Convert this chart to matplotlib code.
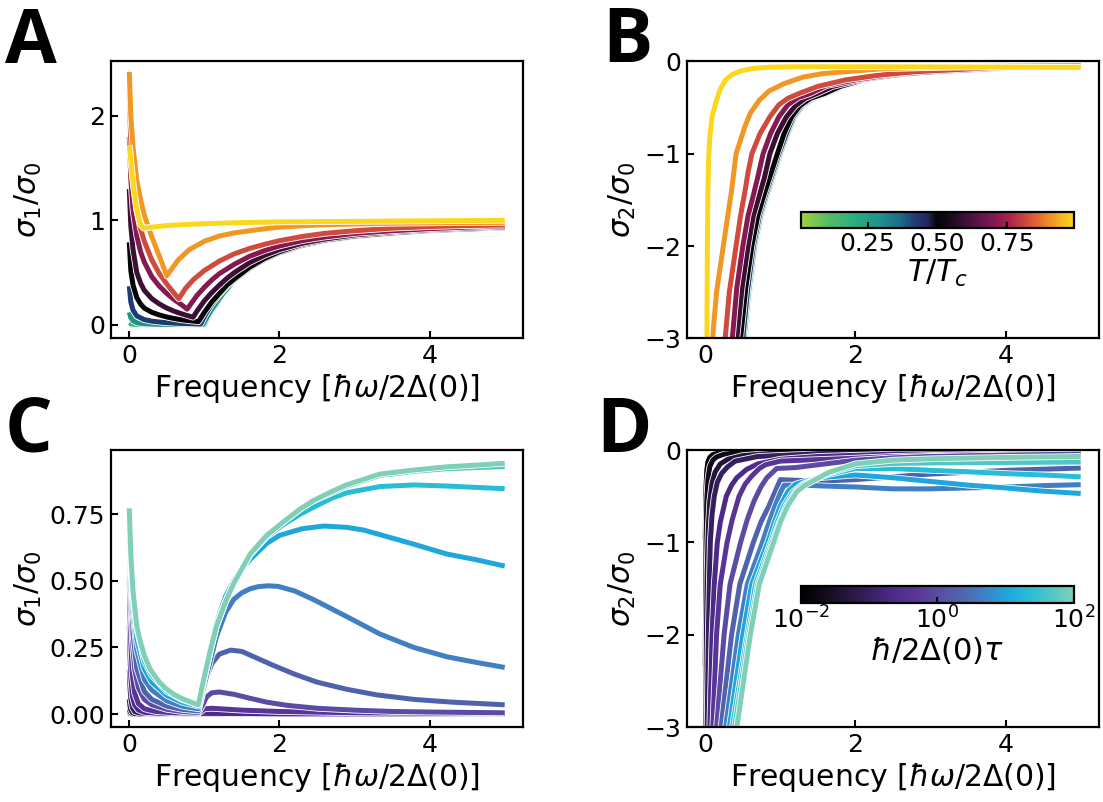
import matplotlib
matplotlib.use('Agg')
import matplotlib.pyplot as plt
import matplotlib.patheffects as pe
from matplotlib.colors import LinearSegmentedColormap, Normalize, LogNorm
from matplotlib.cm import ScalarMappable

# temperatures T/Tc (panels A, B)
temps = [0.05, 0.17, 0.28, 0.42, 0.50, 0.60, 0.71, 0.82, 0.91, 0.99]

# scattering rates hbar/2Delta(0)tau (panels C, D)
rates = [0.01, 0.0215, 0.0464, 0.1, 0.215, 0.464, 1.0, 2.15, 4.64, 10.0, 21.5, 46.4, 100.0]

# ---- A: sigma1/sigma0 vs frequency, one curve per temperature
A_x = [
    [0, 0.5, 1.0, 1.05, 1.1, 1.16, 1.25, 1.39, 1.5, 1.61, 1.83, 2.0, 2.28, 2.6, 2.94, 3.5, 4.0, 4.5, 5.0],
    [0, 0.03, 0.1, 0.3, 0.6, 1.0, 1.05, 1.1, 1.16, 1.25, 1.39, 1.5, 1.61, 1.83, 2.0, 2.28, 2.6, 2.94, 3.5, 4.0, 4.5, 5.0],
    [0, 0.02, 0.05, 0.1, 0.2, 0.4, 0.7, 0.98, 1.05, 1.1, 1.16, 1.25, 1.39, 1.5, 1.61, 1.83, 2.0, 2.28, 2.6, 2.94, 3.5, 4.0, 4.5, 5.0],
    [0, 0.02, 0.05, 0.1, 0.2, 0.3, 0.5, 0.7, 0.95, 1.0, 1.05, 1.1, 1.2, 1.3, 1.4, 1.6, 1.8, 2.0, 2.3, 2.6, 3.0, 3.5, 4.0, 4.5, 5.0],
    [0, 0.02, 0.05, 0.1, 0.15, 0.2, 0.3, 0.4, 0.5, 0.6, 0.7, 0.8, 0.92, 1.0, 1.1, 1.2, 1.3, 1.4, 1.6, 1.8, 2.0, 2.3, 2.6, 3.0, 3.5, 4.0, 4.5, 5.0],
    [0, 0.02, 0.05, 0.1, 0.15, 0.2, 0.3, 0.4, 0.5, 0.6, 0.7, 0.85, 0.9, 1.0, 1.1, 1.2, 1.3, 1.4, 1.6, 1.8, 2.0, 2.3, 2.6, 3.0, 3.5, 4.0, 4.5, 5.0],
    [0, 0.02, 0.05, 0.1, 0.15, 0.2, 0.3, 0.4, 0.5, 0.6, 0.7, 0.77, 0.85, 0.9, 1.0, 1.1, 1.2, 1.4, 1.6, 1.8, 2.0, 2.3, 2.6, 3.0, 3.5, 4.0, 4.5, 5.0],
    [0, 0.02, 0.05, 0.1, 0.15, 0.2, 0.3, 0.4, 0.5, 0.6, 0.66, 0.75, 0.85, 1.0, 1.2, 1.4, 1.6, 1.8, 2.0, 2.3, 2.6, 3.0, 3.5, 4.0, 4.5, 5.0],
    [0, 0.02, 0.05, 0.1, 0.15, 0.2, 0.28, 0.35, 0.42, 0.5, 0.55, 0.65, 0.8, 1.0, 1.2, 1.4, 1.7, 2.0, 2.5, 3.0, 3.5, 4.0, 4.5, 5.0],
    [0, 0.03, 0.06, 0.1, 0.15, 0.19, 0.3, 0.5, 0.75, 1.0, 1.5, 2.0, 3.0, 4.0, 5.0],
]
A_y = [
    [0, 0, 0, 0.07, 0.13, 0.19, 0.29, 0.41, 0.48, 0.55, 0.64, 0.69, 0.755, 0.8, 0.835, 0.87, 0.895, 0.91, 0.925],
    [0.02, 0.008, 0.003, 0.001, 0, 0, 0.075, 0.135, 0.195, 0.295, 0.415, 0.485, 0.552, 0.642, 0.692, 0.757, 0.802, 0.836, 0.871, 0.896, 0.911, 0.926],
    [0.12, 0.07, 0.04, 0.02, 0.01, 0.005, 0.003, 0.002, 0.09, 0.15, 0.21, 0.3, 0.42, 0.49, 0.555, 0.645, 0.695, 0.76, 0.805, 0.838, 0.873, 0.897, 0.912, 0.927],
    [0.37, 0.22, 0.14, 0.085, 0.05, 0.035, 0.02, 0.013, 0.008, 0.08, 0.14, 0.2, 0.29, 0.37, 0.43, 0.54, 0.625, 0.69, 0.76, 0.805, 0.845, 0.877, 0.9, 0.915, 0.928],
    [0.79, 0.52, 0.38, 0.26, 0.2, 0.16, 0.12, 0.095, 0.075, 0.06, 0.048, 0.04, 0.03, 0.12, 0.22, 0.3, 0.38, 0.44, 0.55, 0.635, 0.7, 0.77, 0.81, 0.85, 0.88, 0.903, 0.917, 0.93],
    [1.30, 0.95, 0.72, 0.5, 0.4, 0.33, 0.25, 0.2, 0.16, 0.13, 0.105, 0.073, 0.13, 0.23, 0.31, 0.38, 0.445, 0.5, 0.595, 0.665, 0.72, 0.78, 0.82, 0.86, 0.89, 0.91, 0.925, 0.935],
    [1.8, 1.4, 1.1, 0.85, 0.7, 0.6, 0.46, 0.37, 0.3, 0.24, 0.19, 0.15, 0.23, 0.28, 0.36, 0.43, 0.49, 0.58, 0.655, 0.71, 0.755, 0.805, 0.84, 0.875, 0.9, 0.92, 0.935, 0.945],
    [2.21, 1.75, 1.4, 1.1, 0.92, 0.8, 0.62, 0.49, 0.39, 0.3, 0.25, 0.35, 0.43, 0.52, 0.61, 0.68, 0.73, 0.77, 0.805, 0.845, 0.875, 0.9, 0.925, 0.94, 0.95, 0.955],
    [2.42, 2.0, 1.7, 1.38, 1.2, 1.05, 0.88, 0.75, 0.62, 0.47, 0.52, 0.62, 0.72, 0.8, 0.85, 0.88, 0.91, 0.935, 0.955, 0.965, 0.972, 0.976, 0.979, 0.98],
    [1.72, 1.5, 1.3, 1.1, 0.96, 0.925, 0.935, 0.95, 0.96, 0.968, 0.978, 0.985, 0.99, 0.995, 1.0],
]

# ---- B: sigma2/sigma0 vs frequency, one curve per temperature
B_x = [
    [0.53, 0.59, 0.67, 0.75, 0.83, 0.91, 1.01, 1.11, 1.2, 1.31, 1.46, 1.63, 1.86, 2.16, 2.6, 3.1, 4.0, 5.0],
    [0.52, 0.58, 0.66, 0.74, 0.82, 0.9, 1.0, 1.1, 1.19, 1.3, 1.45, 1.62, 1.85, 2.15, 2.6, 3.1, 4.0, 5.0],
    [0.515, 0.575, 0.655, 0.735, 0.815, 0.895, 0.995, 1.095, 1.185, 1.295, 1.445, 1.615, 1.845, 2.145, 2.6, 3.1, 4.0, 5.0],
    [0.5, 0.56, 0.64, 0.72, 0.8, 0.88, 0.98, 1.08, 1.17, 1.28, 1.42, 1.6, 1.82, 2.12, 2.55, 3.08, 4.0, 5.0],
    [0.47, 0.54, 0.62, 0.70, 0.78, 0.86, 0.96, 1.05, 1.15, 1.26, 1.4, 1.58, 1.8, 2.1, 2.5, 3.06, 4.0, 5.0],
    [0.42, 0.49, 0.57, 0.64, 0.72, 0.79, 0.86, 0.96, 1.08, 1.2, 1.33, 1.48, 1.7, 2.06, 2.5, 3.0, 4.0, 5.0],
    [0.36, 0.42, 0.5, 0.57, 0.64, 0.7, 0.77, 0.87, 0.98, 1.1, 1.24, 1.39, 1.62, 2.0, 2.5, 3.06, 4.0, 5.0],
    [0.265, 0.32, 0.41, 0.47, 0.53, 0.57, 0.62, 0.73, 0.86, 0.98, 1.1, 1.24, 1.5, 1.87, 2.3, 2.82, 3.8, 5.0],
    [0.097, 0.15, 0.24, 0.3, 0.35, 0.38, 0.41, 0.47, 0.53, 0.6, 0.72, 0.85, 1.05, 1.3, 1.58, 2.35, 3.5, 5.0],
    [0.022, 0.028, 0.035, 0.045, 0.06, 0.09, 0.15, 0.2, 0.27, 0.36, 0.48, 0.65, 0.86, 1.2, 2.0, 3.0, 4.0, 5.0],
]
B_y = [
    [-3, -2.5, -2.0, -1.67, -1.45, -1.25, -1.0, -0.78, -0.6, -0.48, -0.4, -0.35, -0.27, -0.2, -0.145, -0.1, -0.072, -0.055],
    [-3, -2.5, -2.0, -1.67, -1.45, -1.25, -1.0, -0.78, -0.6, -0.48, -0.4, -0.35, -0.27, -0.2, -0.145, -0.1, -0.072, -0.055],
    [-3, -2.5, -2.0, -1.67, -1.45, -1.25, -1.0, -0.78, -0.6, -0.48, -0.4, -0.35, -0.27, -0.2, -0.145, -0.1, -0.072, -0.055],
    [-3, -2.5, -2.0, -1.67, -1.45, -1.25, -1.0, -0.78, -0.6, -0.48, -0.4, -0.35, -0.27, -0.2, -0.145, -0.1, -0.072, -0.055],
    [-3, -2.45, -2.0, -1.67, -1.45, -1.25, -1.0, -0.78, -0.6, -0.48, -0.4, -0.35, -0.27, -0.2, -0.15, -0.1, -0.072, -0.055],
    [-3, -2.45, -2.0, -1.67, -1.45, -1.25, -1.0, -0.78, -0.6, -0.48, -0.4, -0.35, -0.27, -0.2, -0.15, -0.11, -0.075, -0.055],
    [-3, -2.45, -2.0, -1.67, -1.45, -1.25, -1.0, -0.78, -0.6, -0.47, -0.39, -0.35, -0.26, -0.2, -0.14, -0.11, -0.07, -0.05],
    [-3, -2.5, -2.0, -1.67, -1.4, -1.2, -1.0, -0.78, -0.6, -0.47, -0.4, -0.35, -0.27, -0.2, -0.15, -0.11, -0.07, -0.05],
    [-3, -2.5, -2.0, -1.67, -1.4, -1.2, -1.0, -0.85, -0.7, -0.56, -0.42, -0.32, -0.24, -0.17, -0.13, -0.08, -0.055, -0.045],
    [-3, -2.0, -1.4, -1.05, -0.82, -0.6, -0.42, -0.3, -0.2, -0.14, -0.1, -0.075, -0.062, -0.058, -0.058, -0.06, -0.062, -0.065],
]

# ---- C: sigma1/sigma0 vs frequency, one curve per scattering rate
C_x = [
    [0, 0.01, 0.02, 0.05, 0.92, 5.0],
    [0, 0.01, 0.03, 0.06, 0.92, 5.0],
    [0, 0.01, 0.02, 0.04, 0.07, 0.15, 0.92, 5.0],
    [0, 0.01, 0.02, 0.04, 0.07, 0.12, 0.2, 0.4, 0.92, 5.0],
    [0, 0.01, 0.02, 0.04, 0.07, 0.12, 0.2, 0.4, 0.92, 1.0, 2.0, 5.0],
    [0, 0.01, 0.02, 0.04, 0.07, 0.12, 0.2, 0.35, 0.6, 0.92, 1.0, 1.1, 1.5, 2.0, 3.0, 5.0],
    [0, 0.01, 0.02, 0.04, 0.07, 0.12, 0.2, 0.3, 0.5, 0.7, 0.92, 0.97, 1.03, 1.1, 1.2, 1.4, 1.6, 1.83, 2.1, 2.5, 3.0, 3.5, 4.0, 5.0],
    [0, 0.01, 0.02, 0.05, 0.1, 0.2, 0.3, 0.5, 0.7, 0.92, 0.97, 1.03, 1.1, 1.2, 1.35, 1.5, 1.7, 1.9, 2.2, 2.5, 2.9, 3.3, 3.8, 4.3, 5.0],
    [0, 0.01, 0.02, 0.05, 0.1, 0.2, 0.3, 0.5, 0.7, 0.92, 0.99, 1.08, 1.16, 1.28, 1.39, 1.5, 1.61, 1.72, 1.85, 1.98, 2.2, 2.45, 2.9, 3.34, 3.79, 4.23, 4.6, 5.0],
    [0, 0.01, 0.02, 0.05, 0.1, 0.2, 0.3, 0.5, 0.7, 0.92, 0.99, 1.08, 1.16, 1.28, 1.39, 1.5, 1.61, 1.83, 2.0, 2.3, 2.59, 2.9, 3.12, 3.5, 3.79, 4.23, 4.6, 5.0],
    [0, 0.01, 0.02, 0.05, 0.1, 0.2, 0.3, 0.5, 0.7, 0.92, 0.99, 1.08, 1.16, 1.28, 1.39, 1.5, 1.61, 1.83, 2.05, 2.28, 2.45, 2.7, 2.9, 3.34, 3.79, 4.23, 4.6, 5.0],
    [0, 0.01, 0.02, 0.05, 0.1, 0.14, 0.2, 0.28, 0.4, 0.5, 0.6, 0.72, 0.82, 0.92, 0.99, 1.08, 1.16, 1.28, 1.39, 1.5, 1.61, 1.83, 2.05, 2.28, 2.45, 2.7, 2.9, 3.34, 3.79, 4.23, 4.6, 5.0],
    [0, 0.01, 0.02, 0.05, 0.1, 0.14, 0.2, 0.28, 0.4, 0.5, 0.6, 0.72, 0.82, 0.92, 0.99, 1.08, 1.16, 1.28, 1.39, 1.5, 1.61, 1.83, 2.05, 2.28, 2.45, 2.7, 2.9, 3.34, 3.79, 4.23, 4.6, 5.0],
]
C_y = [
    [0.006, 0.002, 0, 0, 0, 0],
    [0.02, 0.008, 0.002, 0, 0, 0],
    [0.056, 0.03, 0.016, 0.006, 0.002, 0, 0, 0],
    [0.167, 0.1, 0.06, 0.025, 0.01, 0.005, 0.002, 0.001, 0, 0],
    [0.33, 0.22, 0.14, 0.07, 0.035, 0.016, 0.007, 0.003, 0.001, 0.003, 0.001, 0],
    [0.5, 0.37, 0.27, 0.15, 0.08, 0.04, 0.02, 0.01, 0.005, 0.003, 0.02, 0.022, 0.015, 0.01, 0.005, 0.002],
    [0.65, 0.52, 0.42, 0.28, 0.17, 0.1, 0.055, 0.035, 0.018, 0.01, 0.006, 0.03, 0.065, 0.08, 0.083, 0.074, 0.06, 0.045, 0.033, 0.022, 0.015, 0.01, 0.008, 0.005],
    [0.72, 0.6, 0.5, 0.3, 0.17, 0.085, 0.055, 0.03, 0.018, 0.012, 0.07, 0.14, 0.19, 0.225, 0.24, 0.235, 0.21, 0.185, 0.15, 0.12, 0.093, 0.072, 0.055, 0.045, 0.035],
    [0.76, 0.65, 0.56, 0.38, 0.24, 0.13, 0.09, 0.05, 0.03, 0.02, 0.1, 0.2, 0.29, 0.38, 0.43, 0.455, 0.47, 0.478, 0.481, 0.479, 0.462, 0.43, 0.365, 0.3, 0.25, 0.215, 0.195, 0.175],
    [0.77, 0.66, 0.58, 0.42, 0.28, 0.17, 0.12, 0.07, 0.045, 0.03, 0.12, 0.24, 0.34, 0.44, 0.5, 0.545, 0.58, 0.64, 0.67, 0.695, 0.705, 0.7, 0.69, 0.66, 0.637, 0.6, 0.58, 0.555],
    [0.77, 0.67, 0.59, 0.45, 0.32, 0.2, 0.145, 0.085, 0.055, 0.035, 0.13, 0.24, 0.33, 0.42, 0.49, 0.545, 0.598, 0.665, 0.71, 0.75, 0.775, 0.81, 0.83, 0.853, 0.859, 0.855, 0.85, 0.845],
    [0.77, 0.68, 0.6, 0.46, 0.33, 0.28, 0.22, 0.167, 0.12, 0.093, 0.073, 0.056, 0.045, 0.035, 0.13, 0.24, 0.33, 0.42, 0.49, 0.545, 0.6, 0.67, 0.72, 0.77, 0.8, 0.83, 0.855, 0.895, 0.91, 0.92, 0.924, 0.928],
    [0.77, 0.68, 0.6, 0.46, 0.33, 0.28, 0.22, 0.167, 0.12, 0.093, 0.073, 0.056, 0.045, 0.035, 0.13, 0.24, 0.33, 0.42, 0.49, 0.545, 0.6, 0.67, 0.72, 0.77, 0.8, 0.835, 0.86, 0.9, 0.915, 0.927, 0.933, 0.94],
]

# ---- D: sigma2/sigma0 vs frequency, one curve per scattering rate
D_x = [
    [0, 0.005, 0.01, 0.02, 0.035, 0.06, 0.1, 0.2, 0.4, 1.0, 2.0, 5.0],
    [0, 0.005, 0.01, 0.02, 0.035, 0.06, 0.1, 0.15, 0.25, 0.5, 1.0, 2.0, 5.0],
    [0.008, 0.015, 0.025, 0.04, 0.06, 0.09, 0.13, 0.2, 0.3, 0.5, 1.0, 2.0, 5.0],
    [0.025, 0.04, 0.055, 0.067, 0.09, 0.12, 0.16, 0.22, 0.3, 0.4, 0.7, 1.5, 3.0, 5.0],
    [0.06, 0.09, 0.12, 0.16, 0.2, 0.28, 0.35, 0.42, 0.55, 0.7, 1.0, 1.5, 2.5, 5.0],
    [0.1, 0.15, 0.2, 0.29, 0.36, 0.45, 0.53, 0.62, 0.72, 0.8, 1.0, 1.3, 1.8, 2.5, 3.5, 5.0],
    [0.15, 0.25, 0.33, 0.47, 0.56, 0.65, 0.74, 0.82, 0.95, 1.2, 1.5, 2.0, 2.5, 3.0, 4.0, 5.0],
    [0.21, 0.35, 0.46, 0.64, 0.74, 0.85, 0.93, 1.0, 1.3, 1.6, 2.0, 2.5, 3.0, 3.5, 4.0, 5.0],
    [0.27, 0.44, 0.56, 0.76, 0.85, 0.93, 1.0, 1.05, 1.3, 1.6, 2.0, 2.5, 3.0, 3.5, 4.0, 4.5, 5.0],
    [0.32, 0.5, 0.62, 0.83, 0.92, 1.0, 1.1, 1.2, 1.5, 2.0, 2.5, 3.0, 3.5, 4.0, 4.5, 5.0],
    [0.36, 0.56, 0.67, 0.87, 0.96, 1.05, 1.17, 1.3, 1.55, 2.0, 2.5, 3.0, 3.5, 4.0, 4.5, 5.0],
    [0.39, 0.58, 0.7, 0.89, 0.99, 1.08, 1.2, 1.3, 1.65, 2.0, 2.5, 3.0, 4.0, 5.0],
    [0.42, 0.6, 0.72, 0.91, 1.0, 1.1, 1.22, 1.33, 1.65, 2.0, 2.5, 3.0, 4.0, 5.0],
]
D_y = [
    [-0.97, -0.6, -0.4, -0.22, -0.13, -0.08, -0.05, -0.028, -0.016, -0.008, -0.005, -0.003],
    [-2.34, -1.5, -1.0, -0.55, -0.32, -0.18, -0.11, -0.075, -0.045, -0.025, -0.014, -0.008, -0.004],
    [-3, -2.0, -1.3, -0.85, -0.55, -0.36, -0.24, -0.15, -0.1, -0.06, -0.03, -0.017, -0.008],
    [-3, -2.0, -1.4, -1.0, -0.7, -0.5, -0.35, -0.25, -0.18, -0.12, -0.07, -0.04, -0.025, -0.018],
    [-3, -2.0, -1.45, -1.0, -0.78, -0.5, -0.38, -0.3, -0.21, -0.15, -0.1, -0.07, -0.045, -0.03],
    [-3, -2.0, -1.45, -1.0, -0.75, -0.5, -0.37, -0.28, -0.2, -0.16, -0.12, -0.11, -0.095, -0.07, -0.05, -0.04],
    [-3, -2.0, -1.45, -1.0, -0.75, -0.55, -0.4, -0.3, -0.2, -0.19, -0.16, -0.11, -0.085, -0.07, -0.055, -0.045],
    [-3, -2.0, -1.45, -1.0, -0.78, -0.6, -0.45, -0.32, -0.33, -0.335, -0.32, -0.29, -0.26, -0.24, -0.22, -0.195],
    [-3, -2.0, -1.45, -1.0, -0.78, -0.6, -0.46, -0.38, -0.38, -0.39, -0.4, -0.42, -0.42, -0.41, -0.4, -0.385, -0.375],
    [-3, -2.0, -1.45, -1.0, -0.78, -0.6, -0.45, -0.37, -0.3, -0.27, -0.3, -0.34, -0.38, -0.41, -0.445, -0.47],
    [-3, -2.0, -1.45, -1.0, -0.78, -0.6, -0.45, -0.37, -0.28, -0.2, -0.2, -0.22, -0.235, -0.255, -0.27, -0.29],
    [-3, -2.0, -1.45, -1.0, -0.78, -0.6, -0.45, -0.38, -0.25, -0.17, -0.145, -0.14, -0.135, -0.13],
    [-3, -2.0, -1.45, -1.0, -0.78, -0.6, -0.45, -0.38, -0.24, -0.15, -0.11, -0.095, -0.08, -0.07],
]

# colour maps: green -> black -> yellow for T, black -> purple -> blue -> mint for scattering
temp_cmap = LinearSegmentedColormap.from_list('temp', [
    (0.00, '#a2d13e'), (0.10, '#55bd66'), (0.20, '#28ad82'), (0.30, '#1e8c8c'),
    (0.37, '#1b6a88'), (0.41, '#1d3f76'), (0.46, '#242a60'), (0.50, '#050505'),
    (0.55, '#1a0a1c'), (0.62, '#47113f'), (0.70, '#7c1752'), (0.77, '#ad2449'),
    (0.84, '#d8523a'), (0.91, '#ef8d27'), (1.00, '#fbd81d')])
rate_cmap = LinearSegmentedColormap.from_list('rate', [
    (0.00, '#000000'), (0.08, '#120a18'), (0.17, '#25163c'), (0.25, '#35205e'),
    (0.33, '#4b2a88'), (0.42, '#5a3598'), (0.50, '#5a4ba3'), (0.58, '#5062ac'),
    (0.67, '#3f80c3'), (0.75, '#1fa5dc'), (0.83, '#25bcd7'), (0.92, '#52c6c6'),
    (1.00, '#80d0b8')])
temp_norm = Normalize(vmin=0.01, vmax=0.99)
rate_norm = LogNorm(vmin=1e-2, vmax=1e2)

plt.rcParams['font.family'] = 'DejaVu Sans'
plt.rcParams['mathtext.fontset'] = 'dejavusans'

TICK_FS = 18
LABEL_FS = 21.5

fig = plt.figure(figsize=(11.03, 8.02), dpi=100)
axA = fig.add_axes([0.1002, 0.578, 0.3744, 0.3454])
axB = fig.add_axes([0.6224, 0.578, 0.3744, 0.3454])
axC = fig.add_axes([0.1002, 0.0929, 0.3744, 0.346])
axD = fig.add_axes([0.6224, 0.0929, 0.3744, 0.346])

LW = 3.6
halo = [pe.Stroke(linewidth=LW + 1.2, foreground='white'), pe.Normal()]


def draw(ax, xs, ys, values, cmap, norm):
    for x, y, v in zip(xs, ys, values):
        ax.plot(x, y, color=cmap(norm(v)), lw=LW, solid_capstyle='butt',
                solid_joinstyle='round', path_effects=halo)


draw(axA, A_x, A_y, temps, temp_cmap, temp_norm)
draw(axB, B_x, B_y, temps, temp_cmap, temp_norm)
draw(axC, C_x, C_y, rates, rate_cmap, rate_norm)
draw(axD, D_x, D_y, rates, rate_cmap, rate_norm)

axA.set_ylim(-0.13, 2.52)
axA.set_yticks([0, 1, 2])
axB.set_ylim(-3, 0)
axB.set_yticks([-3, -2, -1, 0])
axC.set_ylim(-0.05, 0.99)
axC.set_yticks([0, 0.25, 0.5, 0.75])
axD.set_ylim(-3, 0)
axD.set_yticks([-3, -2, -1, 0])

xlabel = r'Frequency [$\hbar\omega/2\Delta(0)$]'
for ax, ylab in [(axA, r'$\sigma_1/\sigma_0$'), (axB, r'$\sigma_2/\sigma_0$'),
                 (axC, r'$\sigma_1/\sigma_0$'), (axD, r'$\sigma_2/\sigma_0$')]:
    ax.set_xlim(-0.25, 5.25)
    ax.set_xticks([0, 2, 4])
    ax.tick_params(direction='in', length=5, width=1.5, labelsize=TICK_FS, pad=4)
    for s in ax.spines.values():
        s.set_linewidth(1.6)
    ax.set_xlabel(xlabel, fontsize=LABEL_FS, labelpad=3)
    ax.set_ylabel(ylab, fontsize=LABEL_FS)

axC.set_yticklabels(['0.00', '0.25', '0.50', '0.75'])
for ax in (axA, axC):
    ax.yaxis.set_label_coords(-0.16, 0.5)
for ax in (axB, axD):
    ax.yaxis.set_label_coords(-0.118, 0.5)

# inset colour bars
caxB = fig.add_axes([0.7259, 0.7153, 0.2478, 0.0207])
cbB = fig.colorbar(ScalarMappable(norm=temp_norm, cmap=temp_cmap), cax=caxB,
                   orientation='horizontal', ticks=[0.25, 0.5, 0.75])
cbB.ax.set_xticklabels(['0.25', '0.50', '0.75'])
cbB.set_label(r'$T/T_c$', fontsize=22, labelpad=1)

caxD = fig.add_axes([0.7259, 0.2485, 0.2478, 0.0208])
cbD = fig.colorbar(ScalarMappable(norm=rate_norm, cmap=rate_cmap), cax=caxD,
                   orientation='horizontal', ticks=[1e-2, 1e0, 1e2])
cbD.ax.minorticks_off()
cbD.set_label(r'$\hbar/2\Delta(0)\tau$', fontsize=22, labelpad=1)

for cb in (cbB, cbD):
    cb.outline.set_linewidth(1.6)
    cb.ax.tick_params(direction='in', length=4, width=1.5, labelsize=TICK_FS, pad=3)

# panel letters
letter_kw = dict(fontsize=54, fontweight='bold', family='Open Sans', va='baseline', ha='left')
fig.text(5 / 1103, 1 - 63 / 802, 'A', **letter_kw)
fig.text(602 / 1103, 1 - 62 / 802, 'B', **letter_kw)
fig.text(5 / 1103, 1 - 452 / 802, 'C', **letter_kw)
fig.text(596 / 1103, 1 - 452 / 802, 'D', **letter_kw)

fig.savefig('out.png', dpi=100)
